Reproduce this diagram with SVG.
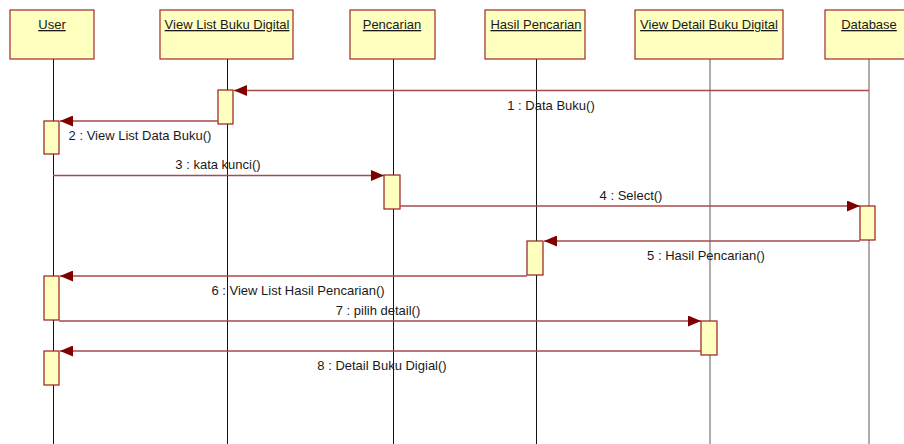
<svg xmlns="http://www.w3.org/2000/svg" width="904" height="444" viewBox="0 0 904 444">
<style>
.hdr{fill:#ffffc0;stroke:#a02828;stroke-width:1.2}
.act{fill:#ffffc0;stroke:#9a1c1c;stroke-width:1.2}
.life{stroke:#111;stroke-width:1}
.life2{stroke:#777;stroke-width:1.2}
.msg{stroke:#a84a4a;stroke-width:1.3;fill:none}
.t{font-family:"Liberation Sans",Arial,sans-serif;font-size:13px;fill:#1a1a1a;text-anchor:middle}
.h{text-decoration:underline}
</style>
<defs>
<marker id="ah" viewBox="0 0 13 11" refX="13" refY="5.5" markerWidth="13" markerHeight="11" markerUnits="userSpaceOnUse" orient="auto">
<path d="M0,0 L13,5.5 L0,11 Z" fill="#800000"/>
</marker>
</defs>
<g id="lifelines">
<line class="life" x1="53.5" y1="59" x2="53.5" y2="444"/>
<line class="life" x1="227.5" y1="59" x2="227.5" y2="444"/>
<line class="life" x1="393.5" y1="59" x2="393.5" y2="444"/>
<line class="life" x1="536.5" y1="59" x2="536.5" y2="444"/>
<line class="life2" x1="710" y1="59" x2="710" y2="444"/>
<line class="life2" x1="869" y1="59" x2="869" y2="444"/>
</g>
<g id="user"><rect class="hdr" x="10" y="10" width="84" height="49"/><text class="t h" x="52" y="29">User</text></g>
<g id="viewlist"><rect class="hdr" x="160" y="10" width="133" height="49"/><text class="t h" x="227" y="29">View List Buku Digital</text></g>
<g id="pencarian"><rect class="hdr" x="350" y="10" width="85" height="49"/><text class="t h" x="392" y="29">Pencarian</text></g>
<g id="hasil"><rect class="hdr" x="485" y="10" width="100" height="49"/><text class="t h" x="536" y="29">Hasil Pencarian</text></g>
<g id="viewdetail"><rect class="hdr" x="635" y="10" width="148" height="49"/><text class="t h" x="709" y="29">View Detail Buku Digital</text></g>
<g id="database"><rect class="hdr" x="825" y="10" width="88" height="49"/><text class="t h" x="869" y="29">Database</text></g>
<g id="activations">
<rect class="act" x="218" y="90" width="15" height="34"/>
<rect class="act" x="44" y="121" width="15" height="33"/>
<rect class="act" x="384" y="175" width="16" height="34"/>
<rect class="act" x="860" y="206" width="15" height="34"/>
<rect class="act" x="527" y="241" width="16" height="34"/>
<rect class="act" x="44" y="276" width="15" height="44"/>
<rect class="act" x="701" y="321" width="16" height="34"/>
<rect class="act" x="44" y="351" width="15" height="34"/>
</g>
<g id="connectors">
<line class="msg" x1="869" y1="90.5" x2="234" y2="90.5" marker-end="url(#ah)"/>
<line class="msg" x1="218" y1="121" x2="60" y2="121" marker-end="url(#ah)"/>
<line class="msg" x1="53" y1="175.5" x2="384" y2="175.5" marker-end="url(#ah)"/>
<line class="msg" x1="400" y1="206" x2="860" y2="206" marker-end="url(#ah)"/>
<line class="msg" x1="860" y1="241" x2="544" y2="241" marker-end="url(#ah)"/>
<line class="msg" x1="527" y1="276" x2="60" y2="276" marker-end="url(#ah)"/>
<line class="msg" x1="59" y1="321" x2="701" y2="321" marker-end="url(#ah)"/>
<line class="msg" x1="701" y1="351" x2="60" y2="351" marker-end="url(#ah)"/>
</g>
<g id="labels">
<text class="t" x="551" y="110">1 : Data Buku()</text>
<text class="t" x="140" y="140">2 : View List Data Buku()</text>
<text class="t" x="218" y="169">3 : kata kunci()</text>
<text class="t" x="631" y="200">4 : Select()</text>
<text class="t" x="706" y="260">5 : Hasil Pencarian()</text>
<text class="t" x="298" y="295">6 : View List Hasil Pencarian()</text>
<text class="t" x="378" y="315">7 : pilih detail()</text>
<text class="t" x="382" y="370">8 : Detail Buku Digial()</text>
</g>
</svg>
